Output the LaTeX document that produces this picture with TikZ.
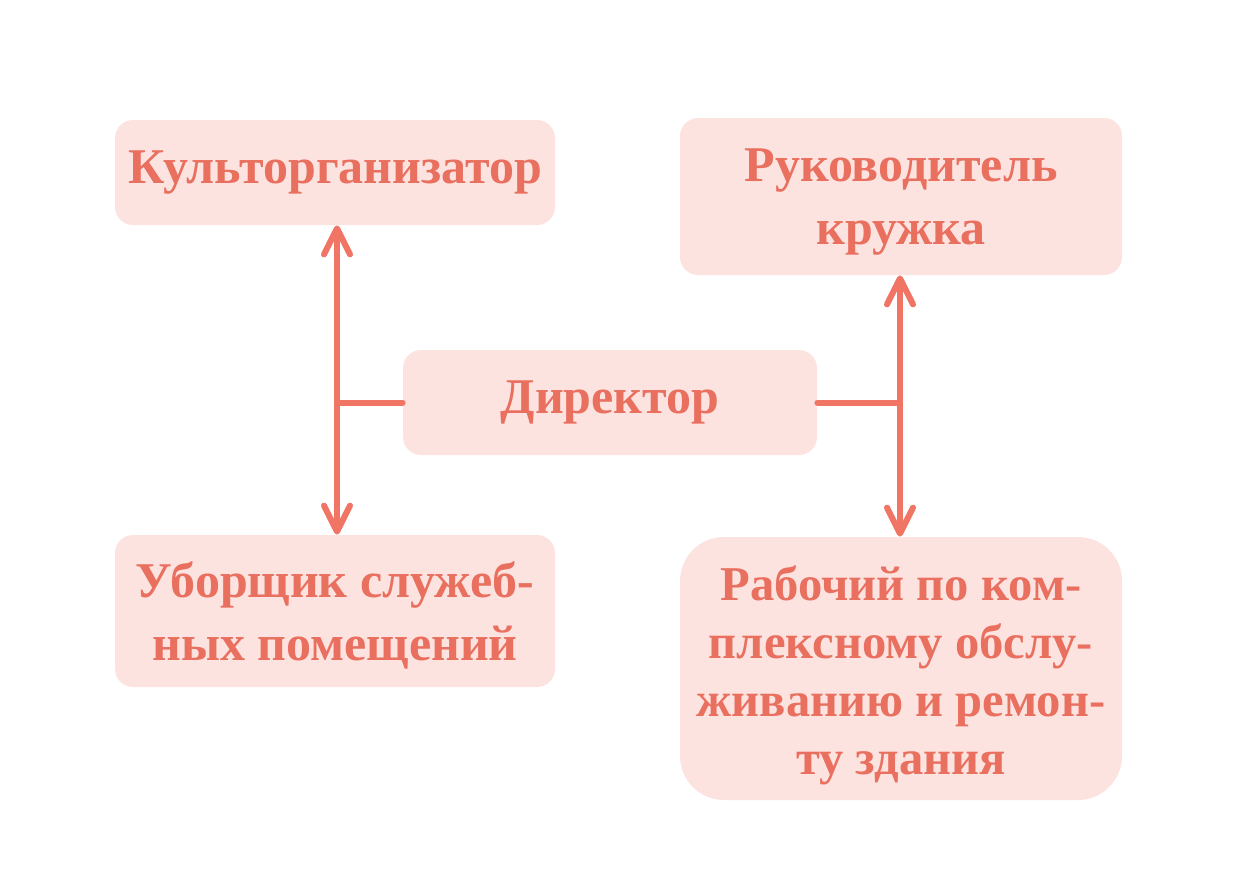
\documentclass[tikz,border=0pt]{standalone}
\usepackage{fontspec}
\setmainfont{Liberation Serif}
\usetikzlibrary{arrows.meta}
\definecolor{boxfill}{HTML}{FDE3E0}
\definecolor{boxtext}{HTML}{E96F5F}
\definecolor{linkcol}{HTML}{F17564}
\tikzset{
  post/.style={fill=boxfill,rounded corners=9pt,inner sep=0pt,align=center,
    text=boxtext,font=\bfseries\fontsize{25}{31.5}\selectfont},
  link/.style={draw=linkcol,line width=3pt,line cap=round,
    arrows={-Straight Barb[length=13pt,width=13pt,line cap=round,line join=round]}}
}
\begin{document}
\begin{tikzpicture}[x=0.5pt,y=-0.5pt]

        \useasboundingbox (0,0) rectangle (1240,874);

        \node[post,minimum width=220pt,minimum height=52.5pt] (kult) at (335,172.5) {Культорганизатор};
        \node[post,minimum width=221pt,minimum height=78.5pt] (ruk) at (901,196.5) {\rule{0pt}{22pt}Руководитель\\кружка};
        \node[post,minimum width=207pt,minimum height=52.5pt] (dir) at (610,402.5) {Директор};
        \node[post,minimum width=220pt,minimum height=76pt] (ubor) at (335,611) {\rule{0pt}{22pt}Уборщик служеб-\\ных помещений};
        \node[post,minimum width=221pt,minimum height=131.5pt,rounded corners=22pt,
          font=\bfseries\fontsize{24.3}{29}\selectfont] (rab) at (901,668.5)
          {\rule{0pt}{24.5pt}Рабочий по ком-\\плексному обслу-\\живанию и ремон-\\ту здания};

        \coordinate (jl) at (337,402.5);
        \coordinate (jr) at (900,402.5);

        \draw[link,-] (dir.west) -- (jl);
        \draw[link,-] (dir.east) -- (jr);
        \foreach \a/\b in {kult.south/jl, ubor.north/jl, ruk.south/jr, rab.north/jr}
          \draw[link] (\b) -- (\a -| \b);

\end{tikzpicture}
\end{document}
